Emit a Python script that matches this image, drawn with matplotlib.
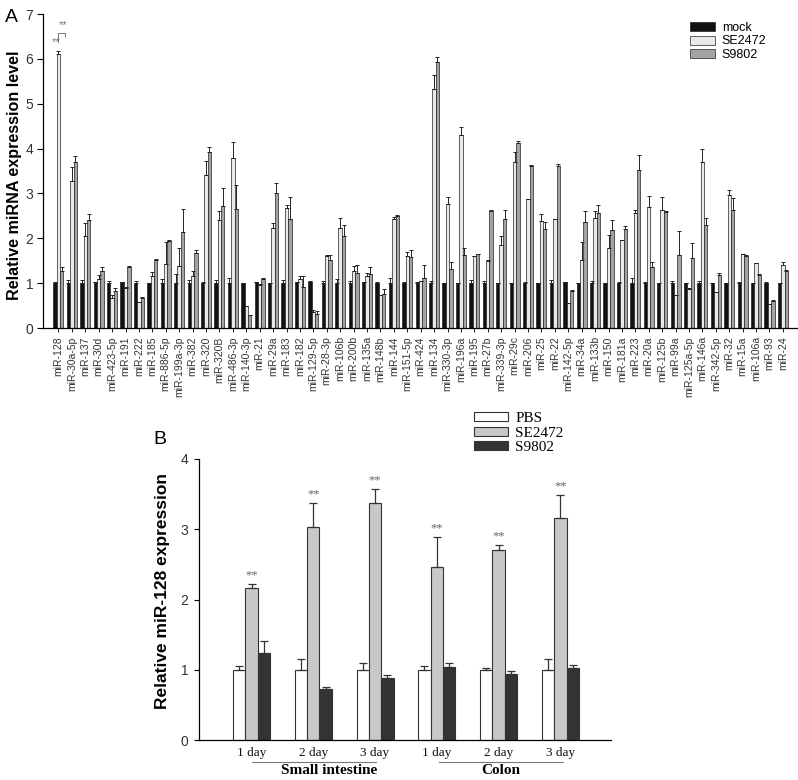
import numpy as np
import matplotlib
matplotlib.use("Agg")
import matplotlib.pyplot as plt
from matplotlib.patches import Patch

# ---------------- Panel A data ----------------
mirnas = ["miR-128", "miR-30a-5p", "miR-137", "miR-30d", "miR-423-5p", "miR-191", "miR-222",
          "miR-185", "miR-886-5p", "miR-199a-3p", "miR-382", "miR-320", "miR-320B", "miR-486-3p",
          "miR-140-3p", "miR-21", "miR-29a", "miR-183", "miR-182", "miR-129-5p", "miR-28-3p",
          "miR-106b", "miR-200b", "miR-135a", "miR-148b", "miR-144", "miR-151-5p", "miR-424",
          "miR-134", "miR-330-3p", "miR-196a", "miR-195", "miR-27b", "miR-339-3p", "miR-29c",
          "miR-206", "miR-25", "miR-22", "miR-142-5p", "miR-34a", "miR-133b", "miR-150",
          "miR-181a", "miR-223", "miR-20a", "miR-125b", "miR-99a", "miR-125a-5p", "miR-146a",
          "miR-342-5p", "miR-32", "miR-15a", "miR-106a", "miR-93", "miR-24"]

mock = [1.00, 1.00, 1.00, 1.02, 1.00, 1.02, 1.00, 1.01, 1.00, 1.00, 1.00, 1.00, 1.00, 1.00,
        1.00, 1.02, 1.00, 1.00, 1.02, 1.02, 1.00, 1.00, 1.00, 1.02, 1.00, 1.00, 1.00, 1.00,
        1.00, 1.00, 1.00, 1.00, 1.00, 1.00, 1.00, 1.00, 1.00, 1.00, 1.02, 1.00, 1.00, 1.00,
        1.00, 1.00, 1.00, 1.00, 1.00, 1.00, 1.00, 1.00, 1.00, 1.00, 1.00, 1.00, 1.00]
mock_top = [1.03, 1.07, 1.08, 1.02, 1.05, 1.02, 1.05, 1.01, 1.10, 1.20, 1.07, 1.03, 1.06, 1.12,
            1.00, 1.02, 1.00, 1.07, 1.02, 1.05, 1.05, 1.10, 1.04, 1.02, 1.03, 1.12, 1.03, 1.03,
            1.04, 1.00, 1.00, 1.06, 1.05, 1.00, 1.00, 1.02, 1.00, 1.06, 1.03, 1.00, 1.05, 1.00,
            1.03, 1.12, 1.03, 1.00, 1.05, 1.00, 1.05, 1.00, 1.00, 1.03, 1.00, 1.03, 1.00]
se2472 = [6.10, 3.27, 2.05, 1.10, 0.67, 0.90, 0.58, 1.17, 1.42, 1.38, 1.17, 3.42, 2.40, 3.78,
          0.50, 0.95, 2.24, 2.67, 1.09, 0.36, 1.60, 2.24, 1.28, 1.15, 0.74, 2.43, 1.60, 1.04,
          5.32, 2.77, 4.31, 1.60, 1.50, 1.84, 3.70, 2.87, 2.39, 2.43, 0.55, 1.52, 2.45, 1.78,
          1.97, 2.56, 2.69, 2.62, 0.73, 0.87, 3.71, 0.80, 2.97, 1.65, 1.45, 0.53, 1.41]
se2472_top = [6.18, 3.60, 2.33, 1.18, 0.73, 0.92, 0.58, 1.24, 1.92, 1.78, 1.28, 3.72, 2.60, 4.15,
              0.50, 0.99, 2.35, 2.75, 1.17, 0.40, 1.63, 2.45, 1.38, 1.22, 0.74, 2.48, 1.70, 1.05,
              5.63, 2.91, 4.49, 1.61, 1.51, 2.04, 3.93, 2.87, 2.54, 2.44, 0.55, 1.92, 2.60, 2.07,
              1.97, 2.63, 2.95, 2.92, 0.73, 0.90, 4.00, 0.80, 3.08, 1.65, 1.45, 0.53, 1.47]
s9802 = [1.28, 3.70, 2.40, 1.28, 0.83, 1.37, 0.67, 1.52, 1.95, 2.13, 1.68, 3.92, 2.73, 2.65,
         0.30, 1.10, 3.00, 2.43, 0.91, 0.31, 1.52, 2.04, 1.23, 1.20, 0.76, 2.50, 1.58, 1.12,
         5.92, 1.31, 1.63, 1.66, 2.61, 2.44, 4.12, 3.62, 2.21, 3.62, 0.83, 2.37, 2.56, 2.19,
         2.20, 3.53, 1.36, 2.58, 1.63, 1.57, 2.29, 1.19, 2.63, 1.61, 1.19, 0.61, 1.26]
s9802_top = [1.37, 3.83, 2.54, 1.35, 0.90, 1.38, 0.68, 1.53, 1.96, 2.65, 1.75, 4.03, 3.13, 3.18,
             0.30, 1.12, 3.23, 2.91, 1.15, 0.39, 1.63, 2.30, 1.40, 1.35, 0.87, 2.52, 1.74, 1.40,
             6.04, 1.48, 1.78, 1.66, 2.62, 2.62, 4.16, 3.63, 2.36, 3.65, 0.85, 2.60, 2.75, 2.40,
             2.28, 3.85, 1.47, 2.60, 2.16, 1.89, 2.46, 1.22, 2.90, 1.62, 1.20, 0.62, 1.30]
series_a = ["mock", "SE2472", "S9802"]

# ---------------- Panel B data ----------------
days = ["1 day", "2 day", "3 day", "1 day", "2 day", "3 day"]
tissues = ["Small intestine", "Colon"]
pbs = [1.00, 1.00, 1.00, 1.00, 1.00, 1.00]
pbs_top = [1.06, 1.15, 1.09, 1.06, 1.03, 1.16]
se_b = [2.16, 3.03, 3.37, 2.46, 2.70, 3.16]
se_b_top = [2.22, 3.37, 3.58, 2.89, 2.78, 3.49]
s98_b = [1.24, 0.72, 0.88, 1.04, 0.94, 1.02]
s98_b_top = [1.41, 0.75, 0.92, 1.10, 0.98, 1.07]
series_b = ["PBS", "SE2472", "S9802"]

W, H = 798, 780
fig = plt.figure(figsize=(W / 100, H / 100), dpi=100)
sans = ["Liberation Sans", "DejaVu Sans"]
serif = ["Liberation Serif", "DejaVu Serif"]
tick_col = "#333333"

# ================= Panel A =================
axA = fig.add_axes([43 / W, 1 - 328 / H, (797 - 43) / W, (328 - 14) / H])
x = np.arange(len(mirnas))
bw = 0.25
colsA = ["#111111", "#e9e9e9", "#a3a3a3"]
valsA = [mock, se2472, s9802]
topsA = [mock_top, se2472_top, s9802_top]
for i, (v, t, c, lab) in enumerate(zip(valsA, topsA, colsA, series_a)):
    v = np.array(v); t = np.array(t)
    xi = x + (i - 1) * bw
    axA.bar(xi, v, width=bw, color=c, edgecolor="#222222", linewidth=0.5, label=lab, zorder=2)
    err = np.clip(t - v, 0, None)
    axA.errorbar(xi, v, yerr=[np.zeros_like(err), err], fmt="none", ecolor="#222222",
                 elinewidth=0.7, capsize=1.3, capthick=0.7, zorder=3)
axA.set_xlim(-1.15, 55.05)
axA.set_ylim(0, 7)
axA.set_yticks(range(0, 8))
axA.set_xticks(x)
axA.set_xticklabels(mirnas, rotation=90, fontsize=7.5, family=sans, color=tick_col, ha="center", va="top")
for lab in axA.get_yticklabels():
    lab.set_fontfamily(sans)
axA.tick_params(axis="y", labelsize=10, length=4, width=0.8, pad=3, labelcolor=tick_col, direction="out")
axA.tick_params(axis="x", length=3, width=0.6, pad=3, direction="out")
for s in ["top", "right"]:
    axA.spines[s].set_visible(False)
axA.spines["left"].set_linewidth(0.9)
axA.spines["bottom"].set_linewidth(0.9)
axA.set_ylabel("Relative miRNA expression level", fontsize=11.6, fontweight="bold", family=sans)
axA.yaxis.set_label_coords(-0.028, 0.485)

# significance marks on miR-128
axA.plot([0.0, 0.0, 0.5, 0.5], [6.38, 6.58, 6.58, 6.5], color="#777777", lw=0.7, zorder=4)
axA.text(-0.15, 6.38, "**", ha="center", va="center", fontsize=8, color="#777777", family=sans)
axA.text(0.35, 6.76, "**", ha="center", va="center", fontsize=8, color="#777777", family=sans)

handlesA = [Patch(facecolor=c, edgecolor="#222222", linewidth=0.5) for c in colsA]
fig.legend(handlesA, series_a, loc="upper left", bbox_to_anchor=(690 / W, 1 - 22 / H),
           frameon=False, prop={"family": sans, "size": 9}, handlelength=2.0, handleheight=0.7,
           handletextpad=0.55, labelspacing=0.12, borderpad=0, borderaxespad=0)

fig.text(5 / W, 1 - 18 / H, "A", fontsize=14, family=sans, ha="left", va="center")

# ================= Panel B =================
axB = fig.add_axes([199 / W, 1 - 740 / H, (611 - 199) / W, (740 - 459) / H])
xb = np.arange(len(days))
bwb = 0.2
colsB = ["#ffffff", "#c8c8c8", "#333333"]
valsB = [pbs, se_b, s98_b]
topsB = [pbs_top, se_b_top, s98_b_top]
for i, (v, t, c, lab) in enumerate(zip(valsB, topsB, colsB, series_b)):
    v = np.array(v); t = np.array(t)
    xi = xb + (i - 1) * bwb
    axB.bar(xi, v, width=bwb, color=c, edgecolor="#333333", linewidth=0.8, label=lab, zorder=2)
    err = np.clip(t - v, 0, None)
    axB.errorbar(xi, v, yerr=[np.zeros_like(err), err], fmt="none", ecolor="#333333",
                 elinewidth=0.9, capsize=3, capthick=0.9, zorder=3)
    if lab == "SE2472":
        for xx, tt in zip(xi, t):
            axB.text(xx, tt + 0.12, "**", ha="center", va="center", fontsize=9,
                     color="#666666", family=serif)
axB.set_xlim(-0.85, 5.82)
axB.set_ylim(0, 4)
axB.set_yticks(range(0, 5))
axB.set_xticks(xb)
axB.set_xticklabels(days, fontsize=9.5, family=serif, color="#111111")
for lab in axB.get_yticklabels():
    lab.set_fontfamily(sans)
axB.tick_params(axis="y", labelsize=10, length=3.5, width=0.8, pad=4, labelcolor=tick_col, direction="out")
axB.tick_params(axis="x", length=0, pad=5)
for s in ["top", "right"]:
    axB.spines[s].set_visible(False)
axB.spines["left"].set_linewidth(0.9)
axB.spines["bottom"].set_linewidth(0.9)
axB.set_ylabel("Relative miR-128 expression", fontsize=12.5, fontweight="bold", family=sans)
axB.yaxis.set_label_coords(-0.070, 0.53)

# tissue group lines and labels
trans = axB.get_xaxis_transform()
for (x0, x1), name in zip([(0.0, 2.02), (3.03, 5.05)], tissues):
    axB.plot([x0, x1], [-0.078, -0.078], color="#777777", lw=0.8, transform=trans, clip_on=False)
    axB.text((x0 + x1) / 2 + (0.25 if name == "Small intestine" else 0.0), -0.11, name,
             transform=trans, ha="center", va="center", fontsize=11, fontweight="bold",
             family=serif)

handlesB = [Patch(facecolor=c, edgecolor="#333333", linewidth=0.8) for c in colsB]
fig.legend(handlesB, series_b, loc="upper left", bbox_to_anchor=(474 / W, 1 - 412 / H),
           frameon=False, prop={"family": serif, "size": 11}, handlelength=2.2, handleheight=0.55,
           handletextpad=0.5, labelspacing=0.1, borderpad=0, borderaxespad=0)

fig.text(153 / W, 1 - 440 / H, "B", fontsize=14, family=sans, ha="left", va="center")

fig.savefig("out.png", dpi=100)
